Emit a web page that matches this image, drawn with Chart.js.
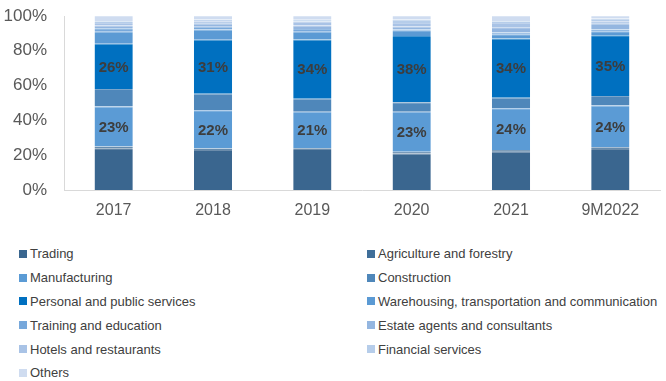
<!DOCTYPE html>
<html>
<head>
<meta charset="utf-8">
<script src="https://cdn.jsdelivr.net/npm/chart.js@4"></script>
<style>
  body { margin: 0; background: #fff; }
  #wrap { position: relative; width: 666px; height: 381px; }
  #chartBox { position: absolute; left: 0; top: 0; width: 666px; height: 232px; }
  #legend {
    position: absolute; left: 19px; top: 242px;
    display: grid; grid-template-columns: 348px 300px; row-gap: 0;
    font-family: "Liberation Sans", Arial, sans-serif; font-size: 13px; color: #404040;
  }
  .item { height: 23.8px; display: flex; align-items: center; white-space: nowrap; }
  .sw { width: 8px; height: 8px; margin-right: 3px; flex: none; }
</style>
</head>
<body>
<div id="wrap">
  <div id="chartBox"><canvas id="sectorChart"></canvas></div>
  <div id="legend"></div>
</div>
<script>
// categories and sector shares (% of total)
const years = ["2017", "2018", "2019", "2020", "2021", "9M2022"];
const sectors = [
  "Trading",
  "Agriculture and forestry",
  "Manufacturing",
  "Construction",
  "Personal and public services",
  "Warehousing, transportation and communication",
  "Training and education",
  "Estate agents and consultants",
  "Hotels and restaurants",
  "Financial services",
  "Others",
];
const trading = [24, 23, 23.5, 21, 22, 23.5];
const agriculture = [1, 0.8, 0.5, 1, 1, 1];
const manufacturing = [23, 22, 21, 23, 24, 24];
const construction = [10, 9.5, 7.5, 5.5, 6, 5.5];
const personal = [26, 31, 34, 38, 34, 35];
const warehousing = [7, 6, 4.5, 3.3, 2.5, 2.3];
const training = [2, 1.5, 1.5, 0.5, 1, 1];
const estate = [1.5, 1.7, 2, 1.7, 3, 3.2];
const hotels = [1.5, 1.5, 2.3, 2, 2.5, 1.5];
const financial = [1, 1, 1, 2, 1, 1.5];
const others = [3, 2, 2.2, 2, 3, 1.5];

const seriesValues = [trading, agriculture, manufacturing, construction, personal,
  warehousing, training, estate, hotels, financial, others];
const colors = ["#3a668f", "#3f6e99", "#5b9bd5", "#4f87ba", "#0070c0", "#5b9ad4",
  "#77a8db", "#94b6e0", "#a9c3e6", "#b6cdea", "#cfdcf0"];
// only these series get value labels
const labelled = ["Manufacturing", "Personal and public services"];

// mix a hex colour towards white (thin separator line on top of each segment)
function lighten(hex, amt) {
  const n = parseInt(hex.slice(1), 16);
  const ch = [(n >> 16) & 255, (n >> 8) & 255, n & 255].map((c) =>
    Math.round(c + (255 - c) * amt)
  );
  return "rgb(" + ch.join(",") + ")";
}

const datasets = sectors.map((name, i) => ({
  label: name,
  data: seriesValues[i],
  backgroundColor: colors[i],
  borderColor: lighten(colors[i], 0.25),
  borderWidth: { top: 1 },
  borderSkipped: false,
  barPercentage: 0.385,
  categoryPercentage: 1,
}));

// prints rounded share in the middle of the labelled segments
const segmentLabels = {
  id: "segmentLabels",
  afterDatasetsDraw(chart) {
    const ctx = chart.ctx;
    ctx.save();
    ctx.font = "bold 15px 'Liberation Sans', Arial, sans-serif";
    ctx.fillStyle = "#3d3d3d";
    ctx.textAlign = "center";
    ctx.textBaseline = "middle";
    chart.data.datasets.forEach((ds, i) => {
      if (!labelled.includes(ds.label)) return;
      chart.getDatasetMeta(i).data.forEach((bar, j) => {
        const mid = (bar.y + bar.base) / 2;
        ctx.fillText(Math.round(ds.data[j]) + "%", bar.x, mid + 1);
      });
    });
    ctx.restore();
  },
};

const ctx = document.getElementById("sectorChart").getContext("2d");
const chart = new Chart(ctx, {
  type: "bar",
  data: { labels: years, datasets: datasets },
  options: {
    responsive: true,
    maintainAspectRatio: false,
    animation: false,
    layout: { padding: { top: 16, right: 6, left: 0, bottom: 0 } },
    plugins: { legend: { display: false }, tooltip: { enabled: false } },
    scales: {
      x: {
        stacked: true,
        grid: { display: false, tickLength: 8 },
        border: { display: true, color: "#d9d9d9", width: 1 },
        ticks: {
          color: "#595959",
          padding: 3,
          font: { family: "'Liberation Sans', Arial, sans-serif", size: 16 },
        },
        afterFit: (scale) => { scale.height = 42; },
      },
      y: {
        stacked: true,
        min: 0,
        max: 100,
        grid: { display: false, tickLength: 15 },
        border: { display: true, color: "#d9d9d9", width: 1 },
        ticks: {
          stepSize: 20,
          color: "#595959",
          padding: 2,
          font: { family: "'Liberation Sans', Arial, sans-serif", size: 17 },
          callback: (v) => v + "%",
        },
        afterFit: (scale) => { scale.width = 64; },
      },
    },
  },
  plugins: [segmentLabels],
});

// two-column legend, filled row by row
const legendEl = document.getElementById("legend");
sectors.forEach((name, i) => {
  const item = document.createElement("div");
  item.className = "item";
  const sw = document.createElement("span");
  sw.className = "sw";
  sw.style.background = colors[i];
  item.appendChild(sw);
  item.appendChild(document.createTextNode(name));
  legendEl.appendChild(item);
});
</script>
</body>
</html>
